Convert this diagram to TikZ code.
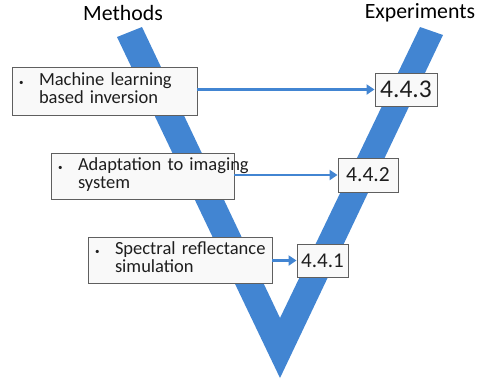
\documentclass[tikz,border=0pt]{standalone}
\usepackage{fontspec}
\setmainfont{Carlito}
\usetikzlibrary{arrows.meta}
\definecolor{vblue}{RGB}{66,133,210}
\definecolor{boxline}{RGB}{95,95,95}
\definecolor{boxfill}{RGB}{249,249,249}
\definecolor{txt}{RGB}{30,30,30}
\tikzset{
  mbox/.style={draw=boxline, line width=0.9pt, fill=boxfill, text=txt, align=left,
    inner xsep=7pt, inner ysep=0pt, anchor=center,
    font=\fontsize{18.5}{18.3}\selectfont},
  ebox/.style={draw=boxline, line width=0.9pt, fill=boxfill, text=txt,
    inner sep=0pt, minimum height=33pt},
  link/.style={draw=vblue, line width=2.4pt, -{Triangle[length=8pt,width=10pt]}},
  heading/.style={text=black, font=\fontsize{21.8}{24}\selectfont}
}
\newcommand{\bul}{{\fontsize{9}{9}\selectfont\textbullet}}
\begin{document}
\begin{tikzpicture}[x=1pt,y=-1pt]
\useasboundingbox (0,0) rectangle (478,384);
% V shape
\fill[vblue] (117,37) -- (280,378) -- (443,35) -- (420,27) -- (280,318) -- (142,27) -- cycle;
% headings
\node[heading] (hm) at (123,13) {Methods};
\node[heading] (he) at (420,13) {Experiments};
% method boxes
\node[mbox, minimum width=185pt, minimum height=48pt, text width=171pt] (m1) at (104.5,91)
  {\begin{tabular}{@{}p{20pt}@{}l@{}}\bul & Machine learning\\ & based inversion\end{tabular}};
\node[mbox, minimum width=183pt, minimum height=46pt, text width=169pt] (m2) at (142.5,176)
  {\begin{tabular}{@{}p{20pt}@{}l@{}}\bul & Adaptation to imaging\\ & system\end{tabular}};
\node[mbox, minimum width=184pt, minimum height=46pt, text width=170pt] (m3) at (180,260)
  {\begin{tabular}{@{}p{20pt}@{}l@{}}\bul & Spectral reflectance\\ & simulation\end{tabular}};
% experiment boxes
\node[ebox, minimum width=62pt, font=\fontsize{25.5}{27}\selectfont] (e3) at (406,89.5) {4.4.3};
\node[ebox, minimum width=60pt, minimum height=34pt, font=\fontsize{21.5}{24}\selectfont] (e2) at (368,175) {4.4.2};
\node[ebox, minimum width=51pt, font=\fontsize{21}{24}\selectfont] (e1) at (322.5,260.5) {4.4.1};
% connectors
\draw[link] (m1.east |- e3.west) -- (e3.west);
\draw[link] (m2.east |- e2.west) -- (e2.west);
\draw[link] (m3.east |- e1.west) -- (e1.west);
\end{tikzpicture}
\end{document}
